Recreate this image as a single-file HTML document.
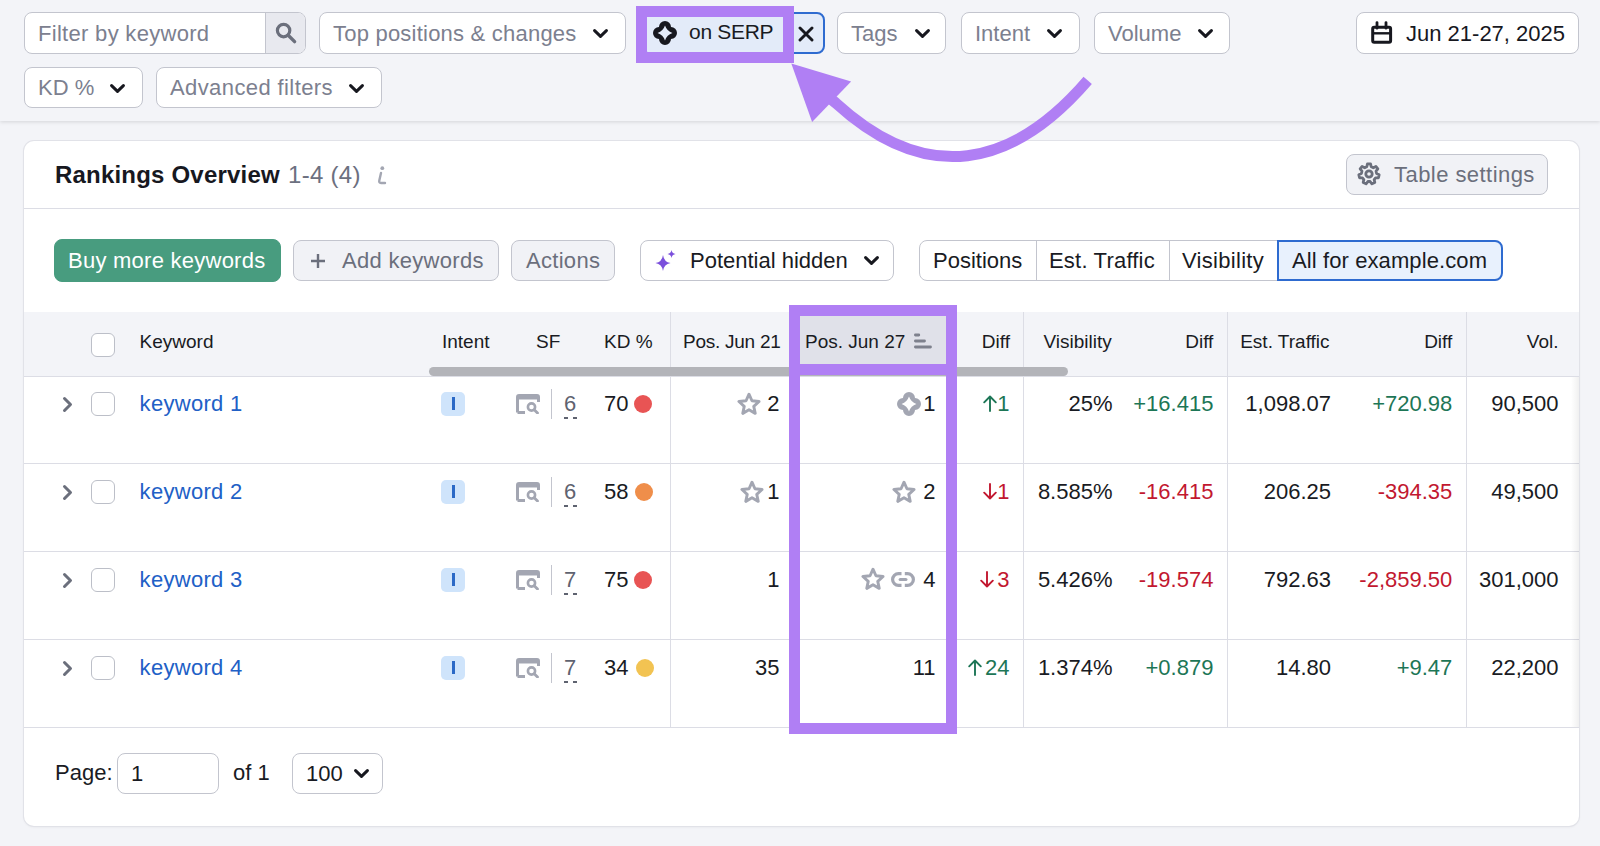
<!DOCTYPE html>
<html><head><meta charset="utf-8">
<style>
*{box-sizing:border-box;margin:0;padding:0}
html,body{width:1600px;height:846px;overflow:hidden;background:#f3f4f8;font-family:"Liberation Sans",sans-serif;color:#191b23}
.a{position:absolute}
.btn{position:absolute;display:flex;align-items:center;border:1.4px solid #c3c5ce;border-radius:8px;background:#fff;font-size:22px;white-space:nowrap}
.btn span{padding-top:1px}
.gray{color:#7c808f}
#hdr{position:absolute;left:0;top:0;width:1600px;height:121px;background:#f3f4f8;box-shadow:0 1px 4px rgba(0,0,0,0.13)}
#card{position:absolute;left:24px;top:141px;width:1555px;height:685px;background:#fff;border-radius:10px;box-shadow:0 0 0 1px #e1e2e8, 0 1px 3px rgba(0,0,0,0.07)}
.t{position:absolute;white-space:nowrap;font-size:22px;line-height:24px}
.th{position:absolute;white-space:nowrap;font-size:19px;line-height:22px;top:331px;color:#191b23}
.r{text-align:right}
.vl{position:absolute;width:1px;background:#dcdde5}
.hl{position:absolute;height:1px;background:#dcdde5;left:24px;width:1555px}
.cb{position:absolute;width:24px;height:24px;border:1.5px solid #bcbfc8;border-radius:6px;background:#fff}
.green{color:#1d7656}
.red{color:#c21830}
.blue{color:#2160c6}
</style></head><body>
<div id="hdr"></div>
<div class="btn" style="left:24px;top:12px;width:282px;height:42px;overflow:hidden"><span class="gray" style="position:absolute;left:13px;letter-spacing:0.3px">Filter by keyword</span><div class="a" style="left:240px;top:0;width:41px;height:40px;background:#e8e9ef;border-left:1px solid #c3c5ce"></div><svg class="a" style="left:249px;top:8px" width="24" height="24" viewBox="0 0 24 24"><circle cx="9.6" cy="9.6" r="6.2" fill="none" stroke="#6b6f7c" stroke-width="3.2"/><path d="M14.2 14.2 L20.6 20.6" stroke="#6b6f7c" stroke-width="3.4" stroke-linecap="round"/></svg></div>
<div class="btn" style="left:319px;top:12px;width:307px;height:42px;"><span class="gray" style="position:absolute;left:13px;letter-spacing:0.22px">Top positions &amp; changes</span><svg class="a" style="left:273px;top:16px" width="15" height="9" viewBox="0 0 15 9"><path d="M1.6 1.6 L7.5 7.4 L13.4 1.6" fill="none" stroke="#17181f" stroke-width="3" stroke-linecap="round" stroke-linejoin="round"/></svg></div>
<div class="btn" style="left:837px;top:12px;width:109px;height:42px;"><span class="gray" style="position:absolute;left:13px;letter-spacing:0px">Tags</span><svg class="a" style="left:77px;top:16px" width="15" height="9" viewBox="0 0 15 9"><path d="M1.6 1.6 L7.5 7.4 L13.4 1.6" fill="none" stroke="#17181f" stroke-width="3" stroke-linecap="round" stroke-linejoin="round"/></svg></div>
<div class="btn" style="left:961px;top:12px;width:119px;height:42px;"><span class="gray" style="position:absolute;left:13px;letter-spacing:0px">Intent</span><svg class="a" style="left:85px;top:16px" width="15" height="9" viewBox="0 0 15 9"><path d="M1.6 1.6 L7.5 7.4 L13.4 1.6" fill="none" stroke="#17181f" stroke-width="3" stroke-linecap="round" stroke-linejoin="round"/></svg></div>
<div class="btn" style="left:1094px;top:12px;width:136px;height:42px;"><span class="gray" style="position:absolute;left:13px;letter-spacing:0px">Volume</span><svg class="a" style="left:103px;top:16px" width="15" height="9" viewBox="0 0 15 9"><path d="M1.6 1.6 L7.5 7.4 L13.4 1.6" fill="none" stroke="#17181f" stroke-width="3" stroke-linecap="round" stroke-linejoin="round"/></svg></div>
<div class="btn" style="left:24px;top:67px;width:119px;height:41px;"><span class="gray" style="position:absolute;left:13px;letter-spacing:0px">KD %</span><svg class="a" style="left:85px;top:16px" width="15" height="9" viewBox="0 0 15 9"><path d="M1.6 1.6 L7.5 7.4 L13.4 1.6" fill="none" stroke="#17181f" stroke-width="3" stroke-linecap="round" stroke-linejoin="round"/></svg></div>
<div class="btn" style="left:156px;top:67px;width:226px;height:41px;"><span class="gray" style="position:absolute;left:13px;letter-spacing:0.4px">Advanced filters</span><svg class="a" style="left:192px;top:16px" width="15" height="9" viewBox="0 0 15 9"><path d="M1.6 1.6 L7.5 7.4 L13.4 1.6" fill="none" stroke="#17181f" stroke-width="3" stroke-linecap="round" stroke-linejoin="round"/></svg></div>
<div class="btn" style="left:640px;top:12px;width:185px;height:42px;background:#e3ebf9;border:2px solid #2e6bd0"><svg class="a" style="left:10px;top:6px" width="26" height="26" viewBox="-1 -1 26 26"><path d="M6 6 A6 6 0 0 1 18 6 A6 6 0 0 1 18 18 A6 6 0 0 1 6 18 A6 6 0 0 1 6 6 Z M12 4.6 Q13.9 10.1 19.4 12 Q13.9 13.9 12 19.4 Q10.1 13.9 4.6 12 Q10.1 10.1 12 4.6 Z" fill="#17181f" fill-rule="evenodd"/></svg><span class="" style="position:absolute;left:47px;font-size:21px;letter-spacing:-0.3px;top:5px">on SERP</span><svg class="a" style="left:156px;top:12px" width="16" height="16" viewBox="0 0 16 16"><path d="M2 2 L14 14 M14 2 L2 14" stroke="#17181f" stroke-width="2.9" stroke-linecap="round"/></svg></div>
<div class="btn" style="left:1356px;top:12px;width:223px;height:42px;"><svg class="a" style="left:13px;top:7px" width="24" height="25" viewBox="0 0 24 25"><rect x="2.7" y="7.3" width="17.9" height="14.9" rx="1.5" fill="none" stroke="#17181f" stroke-width="3"/><path d="M2.7 13.3 H20.6" stroke="#17181f" stroke-width="2.4"/><path d="M7 2.6 V8.2 M16 2.6 V8.2" stroke="#17181f" stroke-width="2.8" stroke-linecap="round"/></svg><span class="" style="position:absolute;left:49px;color:#17181f">Jun 21-27, 2025</span></div>
<div id="card"></div>
<div class="hl" style="top:208px"></div>
<div class="t" style="left:55px;top:162px;font-size:24px;line-height:26px;font-weight:bold;color:#17181f;letter-spacing:0.2px">Rankings Overview</div>
<div class="t" style="left:288px;top:162px;font-size:24px;line-height:26px;color:#6c7080;letter-spacing:0.3px">1-4 (4)</div>
<svg class="a" style="left:373px;top:163px" width="16" height="24" viewBox="0 0 16 24"><circle cx="9.3" cy="5.2" r="1.9" fill="#a3a6b2"/><path d="M8 10 L6.3 17.5 Q5.8 20 8 20 L12 20" fill="none" stroke="#a3a6b2" stroke-width="2.4" stroke-linecap="round" stroke-linejoin="round"/></svg>
<div class="btn" style="left:1346px;top:154px;width:202px;height:41px;background:#f1f2f6"><svg class="a" style="left:10px;top:7px" width="24" height="24" viewBox="0 0 24 24"><path d="M9.78 4.73 L10.40 1.93 L13.60 1.93 L14.22 4.73 L16.30 5.73 L18.88 4.47 L20.87 6.97 L19.07 9.21 L19.58 11.45 L22.18 12.69 L21.47 15.80 L18.59 15.78 L17.16 17.58 L17.81 20.38 L14.93 21.77 L13.15 19.51 L10.85 19.51 L9.07 21.77 L6.19 20.38 L6.84 17.58 L5.41 15.78 L2.53 15.80 L1.82 12.69 L4.42 11.45 L4.93 9.21 L3.13 6.97 L5.12 4.47 L7.70 5.73 Z" fill="none" stroke="#6b6f7c" stroke-width="2.8" stroke-linejoin="round"/><circle cx="12" cy="12" r="3.2" fill="none" stroke="#6b6f7c" stroke-width="2.8"/></svg><span class="" style="position:absolute;left:47px;color:#6b6f7c;letter-spacing:0.45px">Table settings</span></div>
<div class="btn" style="left:54px;top:239px;width:227px;height:43px;background:#489c7f;border-color:#489c7f"><span class="" style="position:absolute;left:13px;color:#fff;letter-spacing:0.25px">Buy more keywords</span></div>
<div class="btn" style="left:293px;top:240px;width:206px;height:41px;background:#f1f2f6"><svg class="a" style="left:16px;top:12px" width="16" height="16" viewBox="0 0 16 16"><path d="M8 1 V15 M1 8 H15" stroke="#6b6f7c" stroke-width="2.4"/></svg><span class="" style="position:absolute;left:48px;color:#6b6f7c;letter-spacing:0.3px">Add keywords</span></div>
<div class="btn" style="left:511px;top:240px;width:104px;height:41px;background:#f1f2f6"><span class="" style="position:absolute;left:14px;color:#6b6f7c;letter-spacing:0.3px">Actions</span></div>
<div class="btn" style="left:640px;top:240px;width:254px;height:41px;"><svg class="a" style="left:14px;top:9px" width="22" height="22" viewBox="0 0 22 22"><path d="M8 5 Q9 12 15.5 13 Q9 14 8 21 Q7 14 0.5 13 Q7 12 8 5 Z" fill="#7b4fdc"/><path d="M16.5 0 Q17 3.5 20.5 4 Q17 4.5 16.5 8 Q16 4.5 12.5 4 Q16 3.5 16.5 0 Z" fill="#7b4fdc"/></svg><span class="" style="position:absolute;left:49px;">Potential hidden</span><svg class="a" style="left:223px;top:15px" width="15" height="9" viewBox="0 0 15 9"><path d="M1.6 1.6 L7.5 7.4 L13.4 1.6" fill="none" stroke="#17181f" stroke-width="3" stroke-linecap="round" stroke-linejoin="round"/></svg></div>
<div class="btn" style="left:919px;top:240px;width:583px;height:41px;"><span class="" style="position:absolute;left:13px;">Positions</span><div class="a" style="left:116px;top:0;width:1px;height:39px;background:#c3c5ce"></div><span class="" style="position:absolute;left:129px;letter-spacing:0.2px">Est. Traffic</span><div class="a" style="left:249px;top:0;width:1px;height:39px;background:#c3c5ce"></div><span class="" style="position:absolute;left:262px;letter-spacing:0.3px">Visibility</span><div class="a" style="left:357px;top:-1px;width:226px;height:41px;background:#e8f1fd;border:2px solid #2e6bd0;border-radius:0 8px 8px 0"></div><span class="" style="position:absolute;left:372px;letter-spacing:0.1px">All for example.com</span></div>
<div class="a" style="left:24px;top:312px;width:1555px;height:64px;background:#f3f4f8"></div>
<div class="a" style="left:789px;top:305px;width:168px;height:71px;background:#e0e1e9"></div>
<div class="hl" style="top:376px"></div>
<div class="hl" style="top:463px"></div>
<div class="hl" style="top:551px"></div>
<div class="hl" style="top:639px"></div>
<div class="hl" style="top:727px"></div>
<div class="vl" style="left:670px;top:312px;height:415px"></div>
<div class="vl" style="left:1023px;top:312px;height:415px"></div>
<div class="vl" style="left:1227px;top:312px;height:415px"></div>
<div class="vl" style="left:1466px;top:312px;height:415px"></div>
<div class="a" style="left:1571px;top:377px;width:8px;height:350px;background:linear-gradient(to right,rgba(0,0,0,0),rgba(0,0,0,0.06))"></div>
<div class="cb" style="left:91px;top:333px"></div>
<div class="th" style="left:139.6px">Keyword</div>
<div class="th" style="left:442px">Intent</div>
<div class="th" style="left:536px">SF</div>
<div class="th" style="left:604px">KD %</div>
<div class="th" style="left:683px;letter-spacing:-0.25px">Pos. Jun 21</div>
<div class="th" style="left:805px">Pos. Jun 27</div>
<svg class="a" style="left:913px;top:332.7px" width="20" height="17" viewBox="0 0 20 17"><path d="M2.4 2 H5.8 M2.4 8 H11.5 M2.4 14 H17.5" stroke="#7e818d" stroke-width="2.8" stroke-linecap="round"/></svg>
<div class="th r" style="left:810px;width:200px">Diff</div>
<div class="th" style="left:1043.4px">Visibility</div>
<div class="th r" style="left:1013.4000000000001px;width:200px">Diff</div>
<div class="th" style="left:1240.2px">Est. Traffic</div>
<div class="th r" style="left:1252.3px;width:200px">Diff</div>
<div class="th r" style="left:1358.5px;width:200px">Vol.</div>
<div class="a" style="left:429px;top:366.5px;width:639px;height:9px;background:#b3b4b9;border-radius:5px"></div>
<svg class="a" style="left:62px;top:396px" width="12" height="17" viewBox="0 0 12 17"><path d="M2.5 2.5 L8.5 8.5 L2.5 14.5" fill="none" stroke="#6b6f7c" stroke-width="3" stroke-linecap="round" stroke-linejoin="round"/></svg>
<div class="cb" style="left:91px;top:392px"></div>
<div class="t blue" style="left:139.6px;top:391.9px;letter-spacing:0.3px">keyword 1</div>
<div class="a" style="left:441px;top:392px;width:24px;height:24px;border-radius:5px;background:#cfe4fb"></div>
<div class="a" style="left:451.7px;top:396.7px;width:3px;height:13px;background:#2b69c6"></div>
<svg class="a" style="left:516px;top:394px" width="24" height="20" viewBox="0 0 24 20"><path d="M1.5 18.5 V3 Q1.5 1.5 3 1.5 H21 Q22.5 1.5 22.5 3 V8" fill="none" stroke="#a3a6b2" stroke-width="3"/><path d="M1.5 4 H22.5" stroke="#a3a6b2" stroke-width="3"/><path d="M1.5 18.5 H9" stroke="#a3a6b2" stroke-width="3"/><circle cx="15.5" cy="13" r="3.6" fill="none" stroke="#a3a6b2" stroke-width="2.6"/><path d="M18.2 15.7 L21.5 19" stroke="#a3a6b2" stroke-width="2.8" stroke-linecap="round"/></svg>
<div class="a" style="left:551px;top:389px;width:1px;height:30px;background:#c3c5ce"></div>
<div class="t" style="left:564px;top:391.9px;color:#5f6370">6</div>
<div class="a" style="left:564px;top:417px;width:4.2px;height:1.6px;background:#5f6370"></div>
<div class="a" style="left:572.8px;top:417px;width:4.2px;height:1.6px;background:#5f6370"></div>
<div class="t" style="left:604px;top:391.9px">70</div>
<div class="a" style="left:634px;top:395px;width:18px;height:18px;border-radius:50%;background:#e85454"></div>
<div class="t r " style="left:579.5px;width:200px;top:391.9px">2</div>
<svg class="a" style="left:737px;top:392px" width="24" height="24" viewBox="0 0 24 24"><path d="M12.00 2.20 L14.94 8.75 L22.08 9.52 L16.76 14.35 L18.23 21.38 L12.00 17.80 L5.77 21.38 L7.24 14.35 L1.92 9.52 L9.06 8.75 Z" fill="none" stroke="#a3a6b2" stroke-width="2.9" stroke-linejoin="round"/></svg>
<div class="t r " style="left:735.5px;width:200px;top:391.9px">1</div>
<svg class="a" style="left:896px;top:391px" width="26" height="26" viewBox="-1 -1 26 26"><path d="M6 6 A6 6 0 0 1 18 6 A6 6 0 0 1 18 18 A6 6 0 0 1 6 18 A6 6 0 0 1 6 6 Z M12 4.6 Q13.9 10.1 19.4 12 Q13.9 13.9 12 19.4 Q10.1 13.9 4.6 12 Q10.1 10.1 12 4.6 Z" fill="#a3a6b2" fill-rule="evenodd"/></svg>
<div class="t r green" style="left:809.6px;width:200px;top:391.9px"><svg width="14" height="17" viewBox="0 0 14 17" style="margin-right:0px;vertical-align:-1px"><path d="M7 16 V1.5 M1.2 7.3 L7 1.5 L12.8 7.3" fill="none" stroke="currentColor" stroke-width="1.9" stroke-linecap="round" stroke-linejoin="round"/></svg>1</div>
<div class="t r " style="left:912.5px;width:200px;top:391.9px">25%</div>
<div class="t r green" style="left:1013.4000000000001px;width:200px;top:391.9px">+16.415</div>
<div class="t r " style="left:1131px;width:200px;top:391.9px">1,098.07</div>
<div class="t r green" style="left:1252.3px;width:200px;top:391.9px">+720.98</div>
<div class="t r " style="left:1358.5px;width:200px;top:391.9px">90,500</div>
<svg class="a" style="left:62px;top:484px" width="12" height="17" viewBox="0 0 12 17"><path d="M2.5 2.5 L8.5 8.5 L2.5 14.5" fill="none" stroke="#6b6f7c" stroke-width="3" stroke-linecap="round" stroke-linejoin="round"/></svg>
<div class="cb" style="left:91px;top:480px"></div>
<div class="t blue" style="left:139.6px;top:479.9px;letter-spacing:0.3px">keyword 2</div>
<div class="a" style="left:441px;top:480px;width:24px;height:24px;border-radius:5px;background:#cfe4fb"></div>
<div class="a" style="left:451.7px;top:484.7px;width:3px;height:13px;background:#2b69c6"></div>
<svg class="a" style="left:516px;top:482px" width="24" height="20" viewBox="0 0 24 20"><path d="M1.5 18.5 V3 Q1.5 1.5 3 1.5 H21 Q22.5 1.5 22.5 3 V8" fill="none" stroke="#a3a6b2" stroke-width="3"/><path d="M1.5 4 H22.5" stroke="#a3a6b2" stroke-width="3"/><path d="M1.5 18.5 H9" stroke="#a3a6b2" stroke-width="3"/><circle cx="15.5" cy="13" r="3.6" fill="none" stroke="#a3a6b2" stroke-width="2.6"/><path d="M18.2 15.7 L21.5 19" stroke="#a3a6b2" stroke-width="2.8" stroke-linecap="round"/></svg>
<div class="a" style="left:551px;top:477px;width:1px;height:30px;background:#c3c5ce"></div>
<div class="t" style="left:564px;top:479.9px;color:#5f6370">6</div>
<div class="a" style="left:564px;top:505px;width:4.2px;height:1.6px;background:#5f6370"></div>
<div class="a" style="left:572.8px;top:505px;width:4.2px;height:1.6px;background:#5f6370"></div>
<div class="t" style="left:604px;top:479.9px">58</div>
<div class="a" style="left:634.7px;top:483px;width:18px;height:18px;border-radius:50%;background:#ef8e4a"></div>
<div class="t r " style="left:579.5px;width:200px;top:479.9px">1</div>
<svg class="a" style="left:740px;top:480px" width="24" height="24" viewBox="0 0 24 24"><path d="M12.00 2.20 L14.94 8.75 L22.08 9.52 L16.76 14.35 L18.23 21.38 L12.00 17.80 L5.77 21.38 L7.24 14.35 L1.92 9.52 L9.06 8.75 Z" fill="none" stroke="#a3a6b2" stroke-width="2.9" stroke-linejoin="round"/></svg>
<div class="t r " style="left:735.5px;width:200px;top:479.9px">2</div>
<svg class="a" style="left:892px;top:480px" width="24" height="24" viewBox="0 0 24 24"><path d="M12.00 2.20 L14.94 8.75 L22.08 9.52 L16.76 14.35 L18.23 21.38 L12.00 17.80 L5.77 21.38 L7.24 14.35 L1.92 9.52 L9.06 8.75 Z" fill="none" stroke="#a3a6b2" stroke-width="2.9" stroke-linejoin="round"/></svg>
<div class="t r red" style="left:809.6px;width:200px;top:479.9px"><svg width="14" height="17" viewBox="0 0 14 17" style="margin-right:0px;vertical-align:-1px"><path d="M7 1 V15.5 M1.2 9.7 L7 15.5 L12.8 9.7" fill="none" stroke="currentColor" stroke-width="1.9" stroke-linecap="round" stroke-linejoin="round"/></svg>1</div>
<div class="t r " style="left:912.5px;width:200px;top:479.9px">8.585%</div>
<div class="t r red" style="left:1013.4000000000001px;width:200px;top:479.9px">-16.415</div>
<div class="t r " style="left:1131px;width:200px;top:479.9px">206.25</div>
<div class="t r red" style="left:1252.3px;width:200px;top:479.9px">-394.35</div>
<div class="t r " style="left:1358.5px;width:200px;top:479.9px">49,500</div>
<svg class="a" style="left:62px;top:572px" width="12" height="17" viewBox="0 0 12 17"><path d="M2.5 2.5 L8.5 8.5 L2.5 14.5" fill="none" stroke="#6b6f7c" stroke-width="3" stroke-linecap="round" stroke-linejoin="round"/></svg>
<div class="cb" style="left:91px;top:568px"></div>
<div class="t blue" style="left:139.6px;top:567.9px;letter-spacing:0.3px">keyword 3</div>
<div class="a" style="left:441px;top:568px;width:24px;height:24px;border-radius:5px;background:#cfe4fb"></div>
<div class="a" style="left:451.7px;top:572.7px;width:3px;height:13px;background:#2b69c6"></div>
<svg class="a" style="left:516px;top:570px" width="24" height="20" viewBox="0 0 24 20"><path d="M1.5 18.5 V3 Q1.5 1.5 3 1.5 H21 Q22.5 1.5 22.5 3 V8" fill="none" stroke="#a3a6b2" stroke-width="3"/><path d="M1.5 4 H22.5" stroke="#a3a6b2" stroke-width="3"/><path d="M1.5 18.5 H9" stroke="#a3a6b2" stroke-width="3"/><circle cx="15.5" cy="13" r="3.6" fill="none" stroke="#a3a6b2" stroke-width="2.6"/><path d="M18.2 15.7 L21.5 19" stroke="#a3a6b2" stroke-width="2.8" stroke-linecap="round"/></svg>
<div class="a" style="left:551px;top:565px;width:1px;height:30px;background:#c3c5ce"></div>
<div class="t" style="left:564px;top:567.9px;color:#5f6370">7</div>
<div class="a" style="left:564px;top:593px;width:4.2px;height:1.6px;background:#5f6370"></div>
<div class="a" style="left:572.8px;top:593px;width:4.2px;height:1.6px;background:#5f6370"></div>
<div class="t" style="left:604px;top:567.9px">75</div>
<div class="a" style="left:633.5px;top:571px;width:18px;height:18px;border-radius:50%;background:#e85454"></div>
<div class="t r " style="left:579.5px;width:200px;top:567.9px">1</div>
<div class="t r " style="left:735.5px;width:200px;top:567.9px">4</div>
<svg class="a" style="left:861px;top:567px" width="24" height="24" viewBox="0 0 24 24"><path d="M12.00 2.20 L14.94 8.75 L22.08 9.52 L16.76 14.35 L18.23 21.38 L12.00 17.80 L5.77 21.38 L7.24 14.35 L1.92 9.52 L9.06 8.75 Z" fill="none" stroke="#a3a6b2" stroke-width="2.9" stroke-linejoin="round"/></svg>
<svg class="a" style="left:891.4px;top:572px" width="24" height="16" viewBox="0 0 24 16"><path d="M10.5 1.6 H7.5 A5.9 5.9 0 0 0 7.5 13.4 H10.5 M13.8 1.6 H16.5 A5.9 5.9 0 0 1 16.5 13.4 H13.8" fill="none" stroke="#a3a6b2" stroke-width="3.2"/><path d="M9.2 7.5 H14.9" stroke="#a3a6b2" stroke-width="3.2" stroke-linecap="round"/></svg>
<div class="t r red" style="left:809.6px;width:200px;top:567.9px"><svg width="14" height="17" viewBox="0 0 14 17" style="margin-right:3px;vertical-align:-1px"><path d="M7 1 V15.5 M1.2 9.7 L7 15.5 L12.8 9.7" fill="none" stroke="currentColor" stroke-width="1.9" stroke-linecap="round" stroke-linejoin="round"/></svg>3</div>
<div class="t r " style="left:912.5px;width:200px;top:567.9px">5.426%</div>
<div class="t r red" style="left:1013.4000000000001px;width:200px;top:567.9px">-19.574</div>
<div class="t r " style="left:1131px;width:200px;top:567.9px">792.63</div>
<div class="t r red" style="left:1252.3px;width:200px;top:567.9px">-2,859.50</div>
<div class="t r " style="left:1358.5px;width:200px;top:567.9px">301,000</div>
<svg class="a" style="left:62px;top:660px" width="12" height="17" viewBox="0 0 12 17"><path d="M2.5 2.5 L8.5 8.5 L2.5 14.5" fill="none" stroke="#6b6f7c" stroke-width="3" stroke-linecap="round" stroke-linejoin="round"/></svg>
<div class="cb" style="left:91px;top:656px"></div>
<div class="t blue" style="left:139.6px;top:655.9px;letter-spacing:0.3px">keyword 4</div>
<div class="a" style="left:441px;top:656px;width:24px;height:24px;border-radius:5px;background:#cfe4fb"></div>
<div class="a" style="left:451.7px;top:660.7px;width:3px;height:13px;background:#2b69c6"></div>
<svg class="a" style="left:516px;top:658px" width="24" height="20" viewBox="0 0 24 20"><path d="M1.5 18.5 V3 Q1.5 1.5 3 1.5 H21 Q22.5 1.5 22.5 3 V8" fill="none" stroke="#a3a6b2" stroke-width="3"/><path d="M1.5 4 H22.5" stroke="#a3a6b2" stroke-width="3"/><path d="M1.5 18.5 H9" stroke="#a3a6b2" stroke-width="3"/><circle cx="15.5" cy="13" r="3.6" fill="none" stroke="#a3a6b2" stroke-width="2.6"/><path d="M18.2 15.7 L21.5 19" stroke="#a3a6b2" stroke-width="2.8" stroke-linecap="round"/></svg>
<div class="a" style="left:551px;top:653px;width:1px;height:30px;background:#c3c5ce"></div>
<div class="t" style="left:564px;top:655.9px;color:#5f6370">7</div>
<div class="a" style="left:564px;top:681px;width:4.2px;height:1.6px;background:#5f6370"></div>
<div class="a" style="left:572.8px;top:681px;width:4.2px;height:1.6px;background:#5f6370"></div>
<div class="t" style="left:604px;top:655.9px">34</div>
<div class="a" style="left:636px;top:659px;width:18px;height:18px;border-radius:50%;background:#f2c352"></div>
<div class="t r " style="left:579.5px;width:200px;top:655.9px">35</div>
<div class="t r " style="left:735.5px;width:200px;top:655.9px">11</div>
<div class="t r green" style="left:809.6px;width:200px;top:655.9px"><svg width="14" height="17" viewBox="0 0 14 17" style="margin-right:3px;vertical-align:-1px"><path d="M7 16 V1.5 M1.2 7.3 L7 1.5 L12.8 7.3" fill="none" stroke="currentColor" stroke-width="1.9" stroke-linecap="round" stroke-linejoin="round"/></svg>24</div>
<div class="t r " style="left:912.5px;width:200px;top:655.9px">1.374%</div>
<div class="t r green" style="left:1013.4000000000001px;width:200px;top:655.9px">+0.879</div>
<div class="t r " style="left:1131px;width:200px;top:655.9px">14.80</div>
<div class="t r green" style="left:1252.3px;width:200px;top:655.9px">+9.47</div>
<div class="t r " style="left:1358.5px;width:200px;top:655.9px">22,200</div>
<div class="t" style="left:55px;top:761px">Page:</div>
<div class="btn" style="left:117px;top:753px;width:102px;height:41px;"><span class="" style="position:absolute;left:13px;">1</span></div>
<div class="t" style="left:233px;top:761px">of 1</div>
<div class="btn" style="left:292px;top:753px;width:91px;height:41px;"><span class="" style="position:absolute;left:13px;">100</span><svg class="a" style="left:61px;top:15px" width="15" height="9" viewBox="0 0 15 9"><path d="M1.6 1.6 L7.5 7.4 L13.4 1.6" fill="none" stroke="#17181f" stroke-width="3" stroke-linecap="round" stroke-linejoin="round"/></svg></div>
<div class="a" style="left:636px;top:6px;width:158px;height:57px;border:11px solid #b07ff4"></div>
<div class="a" style="left:789px;top:305px;width:168px;height:429px;border:11px solid #b07ff4"></div>
<div class="a" style="left:789px;top:364px;width:168px;height:11px;background:#b07ff4"></div>
<svg class="a" style="left:0;top:0" width="1600" height="200" viewBox="0 0 1600 200">
<path d="M1087.7 80.4 C1012.3 168 926.6 186 835.75 103 L826 95" fill="none" stroke="#b07ff4" stroke-width="11"/>
<path d="M791.3 63.4 L851.1 81.6 L812.1 121.9 Z" fill="#b07ff4"/>
</svg>
</body></html>
